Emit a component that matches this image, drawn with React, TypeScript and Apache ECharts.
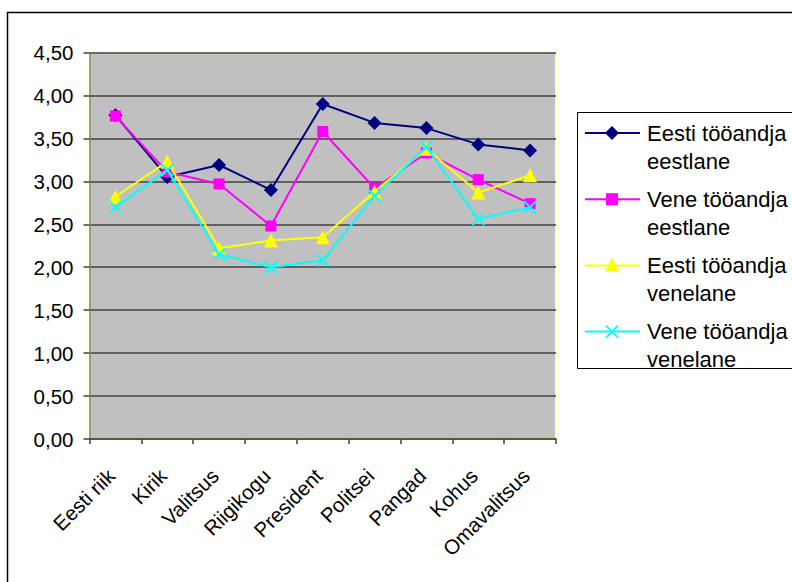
import React, { useEffect, useRef } from "react";
import * as echarts from "echarts";

const categories = ["Eesti riik", "Kirik", "Valitsus", "Riigikogu", "President", "Politsei", "Pangad", "Kohus", "Omavalitsus"];
const seriesNames = ["Eesti tööandja eestlane", "Vene tööandja eestlane", "Eesti tööandja venelane", "Vene tööandja venelane"];
const eestiEestlane = [3.77, 3.05, 3.19, 2.9, 3.9, 3.68, 3.62, 3.43, 3.36];
const veneEestlane = [3.76, 3.11, 2.97, 2.48, 3.58, 2.92, 3.33, 3.02, 2.74];
const eestiVenelane = [2.82, 3.23, 2.22, 2.31, 2.35, 2.88, 3.38, 2.87, 3.07];
const veneVenelane = [2.7, 3.13, 2.15, 2.0, 2.08, 2.83, 3.4, 2.56, 2.7];
const seriesData = [eestiEestlane, veneEestlane, eestiVenelane, veneVenelane];
const colors = ["#000080", "#ff00ff", "#ffff00", "#00ffff"];
const CROSS = "path://M0,0L10,10M10,0L0,10";
const symbols = ["diamond", "rect", "triangle", CROSS];
const symbolSizes = [14, 11, 14, 12];

const FONT = "'Liberation Sans', Arial, sans-serif";

export default function App() {
  const ref = useRef<HTMLDivElement>(null);
  useEffect(() => {
    if (!ref.current) return;
    const chart = echarts.init(ref.current, null, { renderer: "svg" });

    const legendEls: any[] = [];
    seriesNames.forEach((name, i) => {
      const y = 133 + 66.2 * i;
      const idx = name.lastIndexOf(" ");
      const l1 = name.slice(0, idx);
      const l2 = name.slice(idx + 1);
      const c = colors[i];
      legendEls.push({ type: "line", shape: { x1: 585, y1: y, x2: 640, y2: y }, style: { stroke: c, lineWidth: 2 } });
      const mx = 612;
      if (i === 0) {
        legendEls.push({ type: "polygon", shape: { points: [[mx, y - 7], [mx + 7, y], [mx, y + 7], [mx - 7, y]] }, style: { fill: c } });
      } else if (i === 1) {
        legendEls.push({ type: "rect", shape: { x: mx - 6, y: y - 6, width: 12, height: 12 }, style: { fill: c } });
      } else if (i === 2) {
        legendEls.push({ type: "polygon", shape: { points: [[mx, y - 8], [mx + 7, y + 6], [mx - 7, y + 6]] }, style: { fill: c } });
      } else {
        legendEls.push({ type: "line", shape: { x1: mx - 6, y1: y - 6, x2: mx + 6, y2: y + 6 }, style: { stroke: c, lineWidth: 2 } });
        legendEls.push({ type: "line", shape: { x1: mx + 6, y1: y - 6, x2: mx - 6, y2: y + 6 }, style: { stroke: c, lineWidth: 2 } });
      }
      legendEls.push({ type: "text", x: 647, y: y, style: { text: l1, fill: "#000", font: `22px ${FONT}`, verticalAlign: "middle", textAlign: "left" } });
      legendEls.push({ type: "text", x: 647, y: y + 28, style: { text: l2, fill: "#000", font: `22px ${FONT}`, verticalAlign: "middle", textAlign: "left" } });
    });

    chart.setOption({
      animation: false,
      backgroundColor: "#ffffff",
      textStyle: { fontFamily: FONT },
      grid: {
        left: 89.5,
        top: 52.5,
        right: 236,
        bottom: 143,
        containLabel: false,
        show: true,
        backgroundColor: "#c0c0c0",
        borderColor: "#ffffc8",
        borderWidth: 2,
      },
      xAxis: {
        type: "category",
        data: categories,
        boundaryGap: true,
        axisLine: { show: true, lineStyle: { color: "#505030", width: 1.5 } },
        axisTick: { show: true, length: 5, lineStyle: { color: "#404040", width: 1.5 } },
        axisLabel: { rotate: 45, margin: 29, fontSize: 20.5, color: "#000", fontFamily: FONT, interval: 0, padding: [0, 6, 0, 0] },
        splitLine: { show: false },
      },
      yAxis: {
        type: "value",
        min: 0,
        max: 4.5,
        interval: 0.5,
        axisLine: { show: true, lineStyle: { color: "#808068", width: 1.5 } },
        axisTick: { show: true, length: 6, lineStyle: { color: "#404040", width: 1.5 } },
        axisLabel: {
          margin: 16,
          fontSize: 20.5,
          color: "#000",
          fontFamily: FONT,
          formatter: (v: number) => v.toFixed(2).replace(".", ","),
        },
        splitLine: { show: true, lineStyle: { color: "#404040", width: 1.5 } },
      },
      series: seriesData.map((d, i) => ({
        name: seriesNames[i],
        type: "line",
        data: d,
        symbol: symbols[i],
        symbolSize: symbolSizes[i],
        showAllSymbol: true,
        lineStyle: { color: colors[i], width: 2 },
        itemStyle: i === 3
          ? { color: colors[i], borderColor: colors[i], borderWidth: 2 }
          : { color: colors[i], borderWidth: 0 },
        emphasis: { disabled: true },
        z: 2 + i,
      })),
      graphic: [
        { type: "rect", shape: { x: 7.5, y: 12.5, width: 820, height: 620 }, style: { fill: "none", stroke: "#000", lineWidth: 1.5 }, silent: true },
        { type: "rect", shape: { x: 577.5, y: 112.5, width: 240, height: 256 }, style: { fill: "#fff", stroke: "#000", lineWidth: 1 }, silent: true },
        ...legendEls,
      ],
    });
    return () => chart.dispose();
  }, []);
  return <div ref={ref} style={{ position: "absolute", left: 0, top: 0, width: 792, height: 582 }} />;
}
